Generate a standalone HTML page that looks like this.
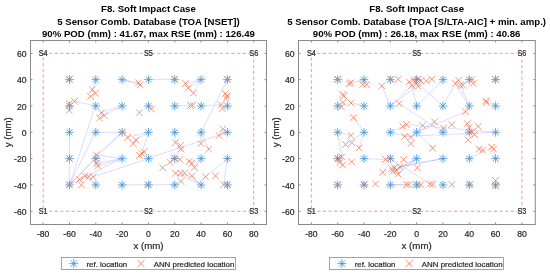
<!DOCTYPE html><html><head><meta charset="utf-8"><style>html,body{margin:0;padding:0;background:#fff;width:550px;height:275px;overflow:hidden}svg{display:block;will-change:transform}</style></head><body>
<svg width="550" height="275" viewBox="0 0 550 275" font-family='"Liberation Sans", sans-serif'>
<rect width="550" height="275" fill="#fff"/>
<text x="148.45" y="12" font-size="9.65" font-weight="bold" text-anchor="middle" fill="#000">F8. Soft Impact Case</text>
<text x="148.45" y="24.5" font-size="9.65" font-weight="bold" text-anchor="middle" fill="#000">5 Sensor Comb. Database (TOA [NSET])</text>
<text x="148.45" y="36.7" font-size="9.65" font-weight="bold" text-anchor="middle" fill="#000">90% POD (mm) : 41.67, max RSE (mm) : 126.49</text>
<rect x="43.17" y="53.34" width="210.56" height="157.92" fill="none" stroke="#f77" stroke-width="0.8" stroke-dasharray="3.3,2.4"/>
<path d="M65.19 79.66H73.79M69.49 75.36V83.96M66.49 76.66L72.49 82.66M66.49 82.66L72.49 76.66M91.51 79.66H100.11M95.81 75.36V83.96M92.81 76.66L98.81 82.66M92.81 82.66L98.81 76.66M117.83 79.66H126.43M122.13 75.36V83.96M119.13 76.66L125.13 82.66M119.13 82.66L125.13 76.66M144.15 79.66H152.75M148.45 75.36V83.96M145.45 76.66L151.45 82.66M145.45 82.66L151.45 76.66M170.47 79.66H179.07M174.77 75.36V83.96M171.77 76.66L177.77 82.66M171.77 82.66L177.77 76.66M196.79 79.66H205.39M201.09 75.36V83.96M198.09 76.66L204.09 82.66M198.09 82.66L204.09 76.66M223.11 79.66H231.71M227.41 75.36V83.96M224.41 76.66L230.41 82.66M224.41 82.66L230.41 76.66M65.19 105.98H73.79M69.49 101.68V110.28M66.49 102.98L72.49 108.98M66.49 108.98L72.49 102.98M91.51 105.98H100.11M95.81 101.68V110.28M92.81 102.98L98.81 108.98M92.81 108.98L98.81 102.98M117.83 105.98H126.43M122.13 101.68V110.28M119.13 102.98L125.13 108.98M119.13 108.98L125.13 102.98M144.15 105.98H152.75M148.45 101.68V110.28M145.45 102.98L151.45 108.98M145.45 108.98L151.45 102.98M170.47 105.98H179.07M174.77 101.68V110.28M171.77 102.98L177.77 108.98M171.77 108.98L177.77 102.98M196.79 105.98H205.39M201.09 101.68V110.28M198.09 102.98L204.09 108.98M198.09 108.98L204.09 102.98M223.11 105.98H231.71M227.41 101.68V110.28M224.41 102.98L230.41 108.98M224.41 108.98L230.41 102.98M65.19 132.3H73.79M69.49 128V136.6M66.49 129.3L72.49 135.3M66.49 135.3L72.49 129.3M91.51 132.3H100.11M95.81 128V136.6M92.81 129.3L98.81 135.3M92.81 135.3L98.81 129.3M117.83 132.3H126.43M122.13 128V136.6M119.13 129.3L125.13 135.3M119.13 135.3L125.13 129.3M144.15 132.3H152.75M148.45 128V136.6M145.45 129.3L151.45 135.3M145.45 135.3L151.45 129.3M170.47 132.3H179.07M174.77 128V136.6M171.77 129.3L177.77 135.3M171.77 135.3L177.77 129.3M196.79 132.3H205.39M201.09 128V136.6M198.09 129.3L204.09 135.3M198.09 135.3L204.09 129.3M223.11 132.3H231.71M227.41 128V136.6M224.41 129.3L230.41 135.3M224.41 135.3L230.41 129.3M65.19 158.62H73.79M69.49 154.32V162.92M66.49 155.62L72.49 161.62M66.49 161.62L72.49 155.62M91.51 158.62H100.11M95.81 154.32V162.92M92.81 155.62L98.81 161.62M92.81 161.62L98.81 155.62M117.83 158.62H126.43M122.13 154.32V162.92M119.13 155.62L125.13 161.62M119.13 161.62L125.13 155.62M144.15 158.62H152.75M148.45 154.32V162.92M145.45 155.62L151.45 161.62M145.45 161.62L151.45 155.62M170.47 158.62H179.07M174.77 154.32V162.92M171.77 155.62L177.77 161.62M171.77 161.62L177.77 155.62M196.79 158.62H205.39M201.09 154.32V162.92M198.09 155.62L204.09 161.62M198.09 161.62L204.09 155.62M223.11 158.62H231.71M227.41 154.32V162.92M224.41 155.62L230.41 161.62M224.41 161.62L230.41 155.62M65.19 184.94H73.79M69.49 180.64V189.24M66.49 181.94L72.49 187.94M66.49 187.94L72.49 181.94M91.51 184.94H100.11M95.81 180.64V189.24M92.81 181.94L98.81 187.94M92.81 187.94L98.81 181.94M117.83 184.94H126.43M122.13 180.64V189.24M119.13 181.94L125.13 187.94M119.13 187.94L125.13 181.94M144.15 184.94H152.75M148.45 180.64V189.24M145.45 181.94L151.45 187.94M145.45 187.94L151.45 181.94M170.47 184.94H179.07M174.77 180.64V189.24M171.77 181.94L177.77 187.94M171.77 187.94L177.77 181.94M196.79 184.94H205.39M201.09 180.64V189.24M198.09 181.94L204.09 187.94M198.09 187.94L204.09 181.94M223.11 184.94H231.71M227.41 180.64V189.24M224.41 181.94L230.41 187.94M224.41 187.94L230.41 181.94" stroke="#3590d8" stroke-width="0.8" fill="none"/>
<path d="M95.81 79.66L92.3 89.6M122.13 79.66L138.6 82.7M122.13 79.66L140.1 84.9M148.45 79.66L174.5 79.1M201.09 79.66L185.5 83.6M201.09 79.66L188.2 88.2M201.09 79.66L193.3 92.6M227.41 79.66L200.9 132.2M95.81 105.98L74.6 101.3M122.13 105.98L101.4 112.7M122.13 105.98L104.1 115.5M69.49 184.94L95.4 105.9M69.49 184.94L95.4 132.2M95.81 132.3L122.3 132.2M69.49 184.94L122.3 132.2M69.49 132.3L69.2 184.6M69.49 184.94L95.4 158.1M69.49 184.94L122.3 158.1M122.13 158.62L96.8 163.2M122.13 158.62L97.7 165.9M122.13 158.62L96.5 155M148.45 158.62L93.2 176.8M148.45 132.3L127.7 137.3M148.45 132.3L135.9 140M148.45 132.3L141.9 153.6M174.77 132.3L175.5 142.7M201.09 132.3L200.9 143.6M201.09 132.3L208.7 149.1M227.41 132.3L219.1 135.5M227.41 132.3L148.2 158.1M122.13 132.3L96.5 155M174.77 105.98L190.5 105.5M201.09 105.98L221.1 104.6M227.41 105.98L226.5 98.1M95.81 184.94L85 175.9M201.09 158.62L194.5 167.7M227.41 158.62L205.5 176.8M227.41 158.62L223.6 184.6M201.09 184.94L175.5 173.2M201.09 184.94L184.5 173.2M201.09 184.94L191.8 175.9M122.13 184.94L174.5 184.6" stroke="#9c9cf0" stroke-opacity="0.5" stroke-width="0.7" fill="none"/>
<path d="M65.9 75.8L72.5 82.4M65.9 82.4L72.5 75.8M89 86.3L95.6 92.9M89 92.9L95.6 86.3M92.1 90L98.7 96.6M92.1 96.6L98.7 90M87.2 93.1L93.8 99.7M87.2 99.7L93.8 93.1M135.3 79.4L141.9 86M135.3 86L141.9 79.4M136.8 81.6L143.4 88.2M136.8 88.2L143.4 81.6M171.2 75.8L177.8 82.4M171.2 82.4L177.8 75.8M182.2 80.3L188.8 86.9M182.2 86.9L188.8 80.3M184.9 84.9L191.5 91.5M184.9 91.5L191.5 84.9M190.2 89.7L196.8 96.3M190.2 96.3L196.8 89.7M224 75.8L230.6 82.4M224 82.4L230.6 75.8M222.2 90.4L228.8 97M222.2 97L228.8 90.4M223.8 92.6L230.4 99.2M223.8 99.2L230.4 92.6M223.2 94.8L229.8 101.4M223.2 101.4L229.8 94.8M65.9 100.3L72.5 106.9M65.9 106.9L72.5 100.3M71.3 98L77.9 104.6M71.3 104.6L77.9 98M65.9 107.1L72.5 113.7M65.9 113.7L72.5 107.1M98.1 109.4L104.7 116M98.1 116L104.7 109.4M100.8 112.2L107.4 118.8M100.8 118.8L107.4 112.2M96.2 114.9L102.8 121.5M96.2 121.5L102.8 114.9M136.2 109.4L142.8 116M136.2 116L142.8 109.4M148.1 105.8L154.7 112.4M148.1 112.4L154.7 105.8M187.2 102.2L193.8 108.8M187.2 108.8L193.8 102.2M189.4 101.9L196 108.5M189.4 108.5L196 101.9M217.8 101.3L224.4 107.9M217.8 107.9L224.4 101.3M218.9 105.2L225.5 111.8M218.9 111.8L225.5 105.2M119 128.9L125.6 135.5M119 135.5L125.6 128.9M124.4 134L131 140.6M124.4 140.6L131 134M132.6 136.7L139.2 143.3M132.6 143.3L139.2 136.7M129.9 140.3L136.5 146.9M129.9 146.9L136.5 140.3M172.2 139.4L178.8 146M172.2 146L178.8 139.4M177.1 142.2L183.7 148.8M177.1 148.8L183.7 142.2M177.6 145.8L184.2 152.4M177.6 152.4L184.2 145.8M197.6 140.3L204.2 146.9M197.6 146.9L204.2 140.3M205.4 145.8L212 152.4M205.4 152.4L212 145.8M219.4 125.8L226 132.4M219.4 132.4L226 125.8M215.8 132.2L222.4 138.8M215.8 138.8L222.4 132.2M138.6 150.3L145.2 156.9M138.6 156.9L145.2 150.3M136.2 152.2L142.8 158.8M136.2 158.8L142.8 152.2M140.8 148.5L147.4 155.1M140.8 155.1L147.4 148.5M65.9 154.9L72.5 161.5M65.9 161.5L72.5 154.9M93.2 151.7L99.8 158.3M93.2 158.3L99.8 151.7M93.5 159.9L100.1 166.5M93.5 166.5L100.1 159.9M94.4 162.6L101 169.2M94.4 169.2L101 162.6M171.2 154.8L177.8 161.4M171.2 161.4L177.8 154.8M166.7 159L173.3 165.6M166.7 165.6L173.3 159M176.7 156.2L183.3 162.8M176.7 162.8L183.3 156.2M159.4 164.4L166 171M159.4 171L166 164.4M185.8 158.1L192.4 164.7M185.8 164.7L192.4 158.1M188.5 159.9L195.1 166.5M188.5 166.5L195.1 159.9M191.2 164.4L197.8 171M191.2 171L197.8 164.4M65.9 181.3L72.5 187.9M65.9 187.9L72.5 181.3M76.2 176.2L82.8 182.8M76.2 182.8L82.8 176.2M78.1 181.7L84.7 188.3M78.1 188.3L84.7 181.7M81.7 172.6L88.3 179.2M81.7 179.2L88.3 172.6M85.3 173.5L91.9 180.1M85.3 180.1L91.9 173.5M89.9 173.5L96.5 180.1M89.9 180.1L96.5 173.5M144.4 181.3L151 187.9M144.4 187.9L151 181.3M172.2 169.9L178.8 176.5M172.2 176.5L178.8 169.9M177.6 169.9L184.2 176.5M177.6 176.5L184.2 169.9M181.2 169.9L187.8 176.5M181.2 176.5L187.8 169.9M188.5 172.6L195.1 179.2M188.5 179.2L195.1 172.6M177.6 178.1L184.2 184.7M177.6 184.7L184.2 178.1M202.2 173.5L208.8 180.1M202.2 180.1L208.8 173.5M212.2 172.6L218.8 179.2M212.2 179.2L218.8 172.6M220.3 181.3L226.9 187.9M220.3 187.9L226.9 181.3M224 181.3L230.6 187.9M224 187.9L230.6 181.3" stroke="#ee6c45" stroke-width="0.7" fill="none"/>
<text transform="translate(43.17,56.34) scale(0.86,1)" x="0" y="0" font-size="8.4" text-anchor="middle" fill="#262626" stroke="#262626" stroke-width="0.2">S4</text>
<text transform="translate(148.45,56.34) scale(0.86,1)" x="0" y="0" font-size="8.4" text-anchor="middle" fill="#262626" stroke="#262626" stroke-width="0.2">S5</text>
<text transform="translate(253.73,56.34) scale(0.86,1)" x="0" y="0" font-size="8.4" text-anchor="middle" fill="#262626" stroke="#262626" stroke-width="0.2">S6</text>
<text transform="translate(43.17,214.26) scale(0.86,1)" x="0" y="0" font-size="8.4" text-anchor="middle" fill="#262626" stroke="#262626" stroke-width="0.2">S1</text>
<text transform="translate(148.45,214.26) scale(0.86,1)" x="0" y="0" font-size="8.4" text-anchor="middle" fill="#262626" stroke="#262626" stroke-width="0.2">S2</text>
<text transform="translate(253.73,214.26) scale(0.86,1)" x="0" y="0" font-size="8.4" text-anchor="middle" fill="#262626" stroke="#262626" stroke-width="0.2">S3</text>
<rect x="30.5" y="40.5" width="236" height="184" fill="none" stroke="#8a8a8a" stroke-width="1"/>
<path d="M43.17 224.5v-2M43.17 40.5v2M69.49 224.5v-2M69.49 40.5v2M95.81 224.5v-2M95.81 40.5v2M122.13 224.5v-2M122.13 40.5v2M148.45 224.5v-2M148.45 40.5v2M174.77 224.5v-2M174.77 40.5v2M201.09 224.5v-2M201.09 40.5v2M227.41 224.5v-2M227.41 40.5v2M253.73 224.5v-2M253.73 40.5v2M30.5 211.26h2M266.5 211.26h-2M30.5 184.94h2M266.5 184.94h-2M30.5 158.62h2M266.5 158.62h-2M30.5 132.3h2M266.5 132.3h-2M30.5 105.98h2M266.5 105.98h-2M30.5 79.66h2M266.5 79.66h-2M30.5 53.34h2M266.5 53.34h-2" stroke="#8a8a8a" stroke-width="1" fill="none"/>
<text x="43.17" y="237.3" font-size="8.6" text-anchor="middle" fill="#262626" stroke="#262626" stroke-width="0.2">-80</text>
<text x="69.49" y="237.3" font-size="8.6" text-anchor="middle" fill="#262626" stroke="#262626" stroke-width="0.2">-60</text>
<text x="95.81" y="237.3" font-size="8.6" text-anchor="middle" fill="#262626" stroke="#262626" stroke-width="0.2">-40</text>
<text x="122.13" y="237.3" font-size="8.6" text-anchor="middle" fill="#262626" stroke="#262626" stroke-width="0.2">-20</text>
<text x="148.45" y="237.3" font-size="8.6" text-anchor="middle" fill="#262626" stroke="#262626" stroke-width="0.2">0</text>
<text x="174.77" y="237.3" font-size="8.6" text-anchor="middle" fill="#262626" stroke="#262626" stroke-width="0.2">20</text>
<text x="201.09" y="237.3" font-size="8.6" text-anchor="middle" fill="#262626" stroke="#262626" stroke-width="0.2">40</text>
<text x="227.41" y="237.3" font-size="8.6" text-anchor="middle" fill="#262626" stroke="#262626" stroke-width="0.2">60</text>
<text x="253.73" y="237.3" font-size="8.6" text-anchor="middle" fill="#262626" stroke="#262626" stroke-width="0.2">80</text>
<text x="26.5" y="214.96" font-size="8.6" text-anchor="end" fill="#262626" stroke="#262626" stroke-width="0.2">-60</text>
<text x="26.5" y="188.64" font-size="8.6" text-anchor="end" fill="#262626" stroke="#262626" stroke-width="0.2">-40</text>
<text x="26.5" y="162.32" font-size="8.6" text-anchor="end" fill="#262626" stroke="#262626" stroke-width="0.2">-20</text>
<text x="26.5" y="136" font-size="8.6" text-anchor="end" fill="#262626" stroke="#262626" stroke-width="0.2">0</text>
<text x="26.5" y="109.68" font-size="8.6" text-anchor="end" fill="#262626" stroke="#262626" stroke-width="0.2">20</text>
<text x="26.5" y="83.36" font-size="8.6" text-anchor="end" fill="#262626" stroke="#262626" stroke-width="0.2">40</text>
<text x="26.5" y="57.04" font-size="8.6" text-anchor="end" fill="#262626" stroke="#262626" stroke-width="0.2">60</text>
<text x="148.45" y="249.2" font-size="9.7" text-anchor="middle" fill="#262626" stroke="#262626" stroke-width="0.2">x (mm)</text>
<text transform="translate(11,132.3) rotate(-90)" x="0" y="0" font-size="9.7" text-anchor="middle" fill="#262626" stroke="#262626" stroke-width="0.2">y (mm)</text>
<rect x="61.35" y="257.5" width="174" height="12" fill="#fff" stroke="#8a8a8a" stroke-width="0.8"/>
<path d="M69.25 263.6H78.25M73.75 259.1V268.1M70.55 260.4L76.95 266.8M70.55 266.8L76.95 260.4" stroke="#3590d8" stroke-width="0.8" fill="none"/>
<text x="86.45" y="267.1" font-size="7.9" fill="#262626" stroke="#262626" stroke-width="0.2">ref. location</text>
<path d="M137.35 260L144.55 267.2M137.35 267.2L144.55 260" stroke="#f08060" stroke-width="0.9" fill="none"/>
<text x="153.65" y="267.1" font-size="7.9" fill="#262626" stroke="#262626" stroke-width="0.2">ANN predicted location</text>
<text x="416.65" y="12" font-size="9.65" font-weight="bold" text-anchor="middle" fill="#000">F8. Soft Impact Case</text>
<text x="416.65" y="24.5" font-size="9.65" font-weight="bold" text-anchor="middle" fill="#000">5 Sensor Comb. Database (TOA [S/LTA-AIC] + min. amp.)</text>
<text x="416.65" y="36.7" font-size="9.65" font-weight="bold" text-anchor="middle" fill="#000">90% POD (mm) : 26.18, max RSE (mm) : 40.86</text>
<rect x="311.37" y="53.34" width="210.56" height="157.92" fill="none" stroke="#f77" stroke-width="0.8" stroke-dasharray="3.3,2.4"/>
<path d="M333.39 79.66H341.99M337.69 75.36V83.96M334.69 76.66L340.69 82.66M334.69 82.66L340.69 76.66M359.71 79.66H368.31M364.01 75.36V83.96M361.01 76.66L367.01 82.66M361.01 82.66L367.01 76.66M386.03 79.66H394.63M390.33 75.36V83.96M387.33 76.66L393.33 82.66M387.33 82.66L393.33 76.66M412.35 79.66H420.95M416.65 75.36V83.96M413.65 76.66L419.65 82.66M413.65 82.66L419.65 76.66M438.67 79.66H447.27M442.97 75.36V83.96M439.97 76.66L445.97 82.66M439.97 82.66L445.97 76.66M464.99 79.66H473.59M469.29 75.36V83.96M466.29 76.66L472.29 82.66M466.29 82.66L472.29 76.66M491.31 79.66H499.91M495.61 75.36V83.96M492.61 76.66L498.61 82.66M492.61 82.66L498.61 76.66M333.39 105.98H341.99M337.69 101.68V110.28M334.69 102.98L340.69 108.98M334.69 108.98L340.69 102.98M359.71 105.98H368.31M364.01 101.68V110.28M361.01 102.98L367.01 108.98M361.01 108.98L367.01 102.98M386.03 105.98H394.63M390.33 101.68V110.28M387.33 102.98L393.33 108.98M387.33 108.98L393.33 102.98M412.35 105.98H420.95M416.65 101.68V110.28M413.65 102.98L419.65 108.98M413.65 108.98L419.65 102.98M438.67 105.98H447.27M442.97 101.68V110.28M439.97 102.98L445.97 108.98M439.97 108.98L445.97 102.98M464.99 105.98H473.59M469.29 101.68V110.28M466.29 102.98L472.29 108.98M466.29 108.98L472.29 102.98M491.31 105.98H499.91M495.61 101.68V110.28M492.61 102.98L498.61 108.98M492.61 108.98L498.61 102.98M333.39 132.3H341.99M337.69 128V136.6M334.69 129.3L340.69 135.3M334.69 135.3L340.69 129.3M359.71 132.3H368.31M364.01 128V136.6M361.01 129.3L367.01 135.3M361.01 135.3L367.01 129.3M386.03 132.3H394.63M390.33 128V136.6M387.33 129.3L393.33 135.3M387.33 135.3L393.33 129.3M412.35 132.3H420.95M416.65 128V136.6M413.65 129.3L419.65 135.3M413.65 135.3L419.65 129.3M438.67 132.3H447.27M442.97 128V136.6M439.97 129.3L445.97 135.3M439.97 135.3L445.97 129.3M464.99 132.3H473.59M469.29 128V136.6M466.29 129.3L472.29 135.3M466.29 135.3L472.29 129.3M491.31 132.3H499.91M495.61 128V136.6M492.61 129.3L498.61 135.3M492.61 135.3L498.61 129.3M333.39 158.62H341.99M337.69 154.32V162.92M334.69 155.62L340.69 161.62M334.69 161.62L340.69 155.62M359.71 158.62H368.31M364.01 154.32V162.92M361.01 155.62L367.01 161.62M361.01 161.62L367.01 155.62M386.03 158.62H394.63M390.33 154.32V162.92M387.33 155.62L393.33 161.62M387.33 161.62L393.33 155.62M412.35 158.62H420.95M416.65 154.32V162.92M413.65 155.62L419.65 161.62M413.65 161.62L419.65 155.62M438.67 158.62H447.27M442.97 154.32V162.92M439.97 155.62L445.97 161.62M439.97 161.62L445.97 155.62M464.99 158.62H473.59M469.29 154.32V162.92M466.29 155.62L472.29 161.62M466.29 161.62L472.29 155.62M491.31 158.62H499.91M495.61 154.32V162.92M492.61 155.62L498.61 161.62M492.61 161.62L498.61 155.62M333.39 184.94H341.99M337.69 180.64V189.24M334.69 181.94L340.69 187.94M334.69 187.94L340.69 181.94M359.71 184.94H368.31M364.01 180.64V189.24M361.01 181.94L367.01 187.94M361.01 187.94L367.01 181.94M386.03 184.94H394.63M390.33 180.64V189.24M387.33 181.94L393.33 187.94M387.33 187.94L393.33 181.94M412.35 184.94H420.95M416.65 180.64V189.24M413.65 181.94L419.65 187.94M413.65 187.94L419.65 181.94M438.67 184.94H447.27M442.97 180.64V189.24M439.97 181.94L445.97 187.94M439.97 187.94L445.97 181.94M464.99 184.94H473.59M469.29 180.64V189.24M466.29 181.94L472.29 187.94M466.29 187.94L472.29 181.94M491.31 184.94H499.91M495.61 180.64V189.24M492.61 181.94L498.61 187.94M492.61 187.94L498.61 181.94" stroke="#3590d8" stroke-width="0.8" fill="none"/>
<path d="M364.01 79.66L349.1 83.6M390.33 105.98L381.8 86M390.33 105.98L416.4 86.4M390.33 105.98L411.8 85.5M364.01 105.98L350.9 102.7M416.65 105.98L411.8 85.5M442.97 105.98L418.2 83.6M442.97 105.98L455.3 83.4M469.29 105.98L455.3 83.4M469.29 105.98L460.4 85.3M416.65 105.98L443.3 80M495.61 105.98L485.8 100.9M469.29 105.98L465.5 111.8M364.01 132.3L353.6 118.2M364.01 132.3L345.5 144.5M364.01 132.3L359.1 147.8M337.69 132.3L341.8 156.8M337.69 132.3L350.9 135.5M390.33 132.3L402.7 126.4M390.33 132.3L410.9 137.3M416.65 132.3L434.5 121.8M416.65 132.3L465.5 111.8M416.65 132.3L432.7 148.2M442.97 132.3L399.1 103.6M495.61 132.3L405.5 124.5M495.61 132.3L404.5 136.4M469.29 158.62L491.8 147.3M495.61 158.62L493.6 149.1M364.01 158.62L385.5 159.5M416.65 158.62L392.7 171.4M416.65 158.62L396.4 170.5M416.65 158.62L398.2 174.1M442.97 158.62L394.5 167.7M442.97 158.62L400 166.8M390.33 184.94L406.4 184.6M390.33 184.94L409.1 184.6M390.33 158.62L430 184.1" stroke="#9c9cf0" stroke-opacity="0.5" stroke-width="0.7" fill="none"/>
<path d="M334.5 75.8L341.1 82.4M334.5 82.4L341.1 75.8M345.8 80.3L352.4 86.9M345.8 86.9L352.4 80.3M347.6 79.4L354.2 86M347.6 86L354.2 79.4M359.4 81.2L366 87.8M359.4 87.8L366 81.2M363.1 81.2L369.7 87.8M363.1 87.8L369.7 81.2M378.5 82.7L385.1 89.3M378.5 89.3L385.1 82.7M387.6 75.8L394.2 82.4M387.6 82.4L394.2 75.8M394.9 75.8L401.5 82.4M394.9 82.4L401.5 75.8M405.8 78.5L412.4 85.1M405.8 85.1L412.4 78.5M410.3 76.7L416.9 83.3M410.3 83.3L416.9 76.7M414.9 75.8L421.5 82.4M414.9 82.4L421.5 75.8M417.6 77.6L424.2 84.2M417.6 84.2L424.2 77.6M413.1 80.3L419.7 86.9M413.1 86.9L419.7 80.3M408.5 82.2L415.1 88.8M408.5 88.8L415.1 82.2M414.9 83.1L421.5 89.7M414.9 89.7L421.5 83.1M423.1 77.6L429.7 84.2M423.1 84.2L429.7 77.6M428.5 75.8L435.1 82.4M428.5 82.4L435.1 75.8M452 80.1L458.6 86.7M452 86.7L458.6 80.1M455.2 76.9L461.8 83.5M455.2 83.5L461.8 76.9M457.1 82L463.7 88.6M457.1 88.6L463.7 82M459.6 82L466.2 88.6M459.6 88.6L466.2 82M468.5 76.2L475.1 82.8M468.5 82.8L475.1 76.2M469.8 80.1L476.4 86.7M469.8 86.7L476.4 80.1M492.1 75.9L498.7 82.5M492.1 82.5L498.7 75.9M339.4 91.2L346 97.8M339.4 97.8L346 91.2M340.7 92.7L347.3 99.3M340.7 99.3L347.3 92.7M339.7 99.2L346.3 105.8M339.7 105.8L346.3 99.2M338.2 103.7L344.8 110.3M338.2 110.3L344.8 103.7M347.7 99.7L354.3 106.3M347.7 106.3L354.3 99.7M395.8 100.3L402.4 106.9M395.8 106.9L402.4 100.3M482.5 97.6L489.1 104.2M482.5 104.2L489.1 97.6M483.2 99L489.8 105.6M483.2 105.6L489.8 99M462.2 108.5L468.8 115.1M462.2 115.1L468.8 108.5M350.3 114.3L356.9 120.9M350.3 120.9L356.9 114.3M347.6 132.2L354.2 138.8M347.6 138.8L354.2 132.2M342.2 141.2L348.8 147.8M342.2 147.8L348.8 141.2M348.5 139.4L355.1 146M348.5 146L355.1 139.4M355.8 144.5L362.4 151.1M355.8 151.1L362.4 144.5M399.4 123.1L406 129.7M399.4 129.7L406 123.1M403.1 121.2L409.7 127.8M403.1 127.8L409.7 121.2M401.2 133.1L407.8 139.7M401.2 139.7L407.8 133.1M407.6 134L414.2 140.6M407.6 140.6L414.2 134M407.6 140.3L414.2 146.9M407.6 146.9L414.2 140.3M419.4 122.2L426 128.8M419.4 128.8L426 122.2M431.2 118.5L437.8 125.1M431.2 125.1L437.8 118.5M440.3 124.9L446.9 131.5M440.3 131.5L446.9 124.9M448.5 121.2L455.1 127.8M448.5 127.8L455.1 121.2M429.4 144.9L436 151.5M429.4 151.5L436 144.9M464 120.3L470.6 126.9M464 126.9L470.6 120.3M465.8 124L472.4 130.6M465.8 130.6L472.4 124M474.9 123.1L481.5 129.7M474.9 129.7L481.5 123.1M468.5 128.5L475.1 135.1M468.5 135.1L475.1 128.5M471.2 131.2L477.8 137.8M471.2 137.8L477.8 131.2M464.9 136.7L471.5 143.3M464.9 143.3L471.5 136.7M475.8 145.8L482.4 152.4M475.8 152.4L482.4 145.8M479.4 146.7L486 153.3M479.4 153.3L486 146.7M488.5 144L495.1 150.6M488.5 150.6L495.1 144M490.3 145.8L496.9 152.4M490.3 152.4L496.9 145.8M334.9 155.3L341.5 161.9M334.9 161.9L341.5 155.3M338.5 153.5L345.1 160.1M338.5 160.1L345.1 153.5M336.7 159L343.3 165.6M336.7 165.6L343.3 159M339.4 161.7L346 168.3M339.4 168.3L346 161.7M348.5 158.4L355.1 165M348.5 165L355.1 158.4M382.2 156.2L388.8 162.8M382.2 162.8L388.8 156.2M387.2 154.8L393.8 161.4M387.2 161.4L393.8 154.8M400.3 156.2L406.9 162.8M400.3 162.8L406.9 156.2M379.4 169L386 175.6M379.4 175.6L386 169M388.5 165.3L395.1 171.9M388.5 171.9L395.1 165.3M391.2 164.4L397.8 171M391.2 171L397.8 164.4M393.1 167.2L399.7 173.8M393.1 173.8L399.7 167.2M389.4 168.1L396 174.7M389.4 174.7L396 168.1M394.9 170.8L401.5 177.4M394.9 177.4L401.5 170.8M396.7 163.5L403.3 170.1M396.7 170.1L403.3 163.5M414 164.4L420.6 171M414 171L420.6 164.4M334.5 181.3L341.1 187.9M334.5 187.9L341.1 181.3M361.2 180.7L367.8 187.3M361.2 187.3L367.8 180.7M372.2 180.7L378.8 187.3M372.2 187.3L378.8 180.7M403.1 181.3L409.7 187.9M403.1 187.9L409.7 181.3M405.8 181.3L412.4 187.9M405.8 187.9L412.4 181.3M414 181.3L420.6 187.9M414 187.9L420.6 181.3M417.6 181.3L424.2 187.9M417.6 187.9L424.2 181.3M426.7 180.8L433.3 187.4M426.7 187.4L433.3 180.8M429.4 180.8L436 187.4M429.4 187.4L436 180.8M448.5 181.3L455.1 187.9M448.5 187.9L455.1 181.3M466.7 180.8L473.3 187.4M466.7 187.4L473.3 180.8M492.2 177.2L498.8 183.8M492.2 183.8L498.8 177.2M492.2 182.7L498.8 189.3M492.2 189.3L498.8 182.7" stroke="#ee6c45" stroke-width="0.7" fill="none"/>
<text transform="translate(311.37,56.34) scale(0.86,1)" x="0" y="0" font-size="8.4" text-anchor="middle" fill="#262626" stroke="#262626" stroke-width="0.2">S4</text>
<text transform="translate(416.65,56.34) scale(0.86,1)" x="0" y="0" font-size="8.4" text-anchor="middle" fill="#262626" stroke="#262626" stroke-width="0.2">S5</text>
<text transform="translate(521.93,56.34) scale(0.86,1)" x="0" y="0" font-size="8.4" text-anchor="middle" fill="#262626" stroke="#262626" stroke-width="0.2">S6</text>
<text transform="translate(311.37,214.26) scale(0.86,1)" x="0" y="0" font-size="8.4" text-anchor="middle" fill="#262626" stroke="#262626" stroke-width="0.2">S1</text>
<text transform="translate(416.65,214.26) scale(0.86,1)" x="0" y="0" font-size="8.4" text-anchor="middle" fill="#262626" stroke="#262626" stroke-width="0.2">S2</text>
<text transform="translate(521.93,214.26) scale(0.86,1)" x="0" y="0" font-size="8.4" text-anchor="middle" fill="#262626" stroke="#262626" stroke-width="0.2">S3</text>
<rect x="298.5" y="40.5" width="236.8" height="184" fill="none" stroke="#8a8a8a" stroke-width="1"/>
<path d="M311.37 224.5v-2M311.37 40.5v2M337.69 224.5v-2M337.69 40.5v2M364.01 224.5v-2M364.01 40.5v2M390.33 224.5v-2M390.33 40.5v2M416.65 224.5v-2M416.65 40.5v2M442.97 224.5v-2M442.97 40.5v2M469.29 224.5v-2M469.29 40.5v2M495.61 224.5v-2M495.61 40.5v2M521.93 224.5v-2M521.93 40.5v2M298.5 211.26h2M535.3 211.26h-2M298.5 184.94h2M535.3 184.94h-2M298.5 158.62h2M535.3 158.62h-2M298.5 132.3h2M535.3 132.3h-2M298.5 105.98h2M535.3 105.98h-2M298.5 79.66h2M535.3 79.66h-2M298.5 53.34h2M535.3 53.34h-2" stroke="#8a8a8a" stroke-width="1" fill="none"/>
<text x="311.37" y="237.3" font-size="8.6" text-anchor="middle" fill="#262626" stroke="#262626" stroke-width="0.2">-80</text>
<text x="337.69" y="237.3" font-size="8.6" text-anchor="middle" fill="#262626" stroke="#262626" stroke-width="0.2">-60</text>
<text x="364.01" y="237.3" font-size="8.6" text-anchor="middle" fill="#262626" stroke="#262626" stroke-width="0.2">-40</text>
<text x="390.33" y="237.3" font-size="8.6" text-anchor="middle" fill="#262626" stroke="#262626" stroke-width="0.2">-20</text>
<text x="416.65" y="237.3" font-size="8.6" text-anchor="middle" fill="#262626" stroke="#262626" stroke-width="0.2">0</text>
<text x="442.97" y="237.3" font-size="8.6" text-anchor="middle" fill="#262626" stroke="#262626" stroke-width="0.2">20</text>
<text x="469.29" y="237.3" font-size="8.6" text-anchor="middle" fill="#262626" stroke="#262626" stroke-width="0.2">40</text>
<text x="495.61" y="237.3" font-size="8.6" text-anchor="middle" fill="#262626" stroke="#262626" stroke-width="0.2">60</text>
<text x="521.93" y="237.3" font-size="8.6" text-anchor="middle" fill="#262626" stroke="#262626" stroke-width="0.2">80</text>
<text x="294.5" y="214.96" font-size="8.6" text-anchor="end" fill="#262626" stroke="#262626" stroke-width="0.2">-60</text>
<text x="294.5" y="188.64" font-size="8.6" text-anchor="end" fill="#262626" stroke="#262626" stroke-width="0.2">-40</text>
<text x="294.5" y="162.32" font-size="8.6" text-anchor="end" fill="#262626" stroke="#262626" stroke-width="0.2">-20</text>
<text x="294.5" y="136" font-size="8.6" text-anchor="end" fill="#262626" stroke="#262626" stroke-width="0.2">0</text>
<text x="294.5" y="109.68" font-size="8.6" text-anchor="end" fill="#262626" stroke="#262626" stroke-width="0.2">20</text>
<text x="294.5" y="83.36" font-size="8.6" text-anchor="end" fill="#262626" stroke="#262626" stroke-width="0.2">40</text>
<text x="294.5" y="57.04" font-size="8.6" text-anchor="end" fill="#262626" stroke="#262626" stroke-width="0.2">60</text>
<text x="416.65" y="249.2" font-size="9.7" text-anchor="middle" fill="#262626" stroke="#262626" stroke-width="0.2">x (mm)</text>
<text transform="translate(279,132.3) rotate(-90)" x="0" y="0" font-size="9.7" text-anchor="middle" fill="#262626" stroke="#262626" stroke-width="0.2">y (mm)</text>
<rect x="329.55" y="257.5" width="174" height="12" fill="#fff" stroke="#8a8a8a" stroke-width="0.8"/>
<path d="M337.45 263.6H346.45M341.95 259.1V268.1M338.75 260.4L345.15 266.8M338.75 266.8L345.15 260.4" stroke="#3590d8" stroke-width="0.8" fill="none"/>
<text x="354.65" y="267.1" font-size="7.9" fill="#262626" stroke="#262626" stroke-width="0.2">ref. location</text>
<path d="M405.55 260L412.75 267.2M405.55 267.2L412.75 260" stroke="#f08060" stroke-width="0.9" fill="none"/>
<text x="421.85" y="267.1" font-size="7.9" fill="#262626" stroke="#262626" stroke-width="0.2">ANN predicted location</text>
</svg></body></html>
